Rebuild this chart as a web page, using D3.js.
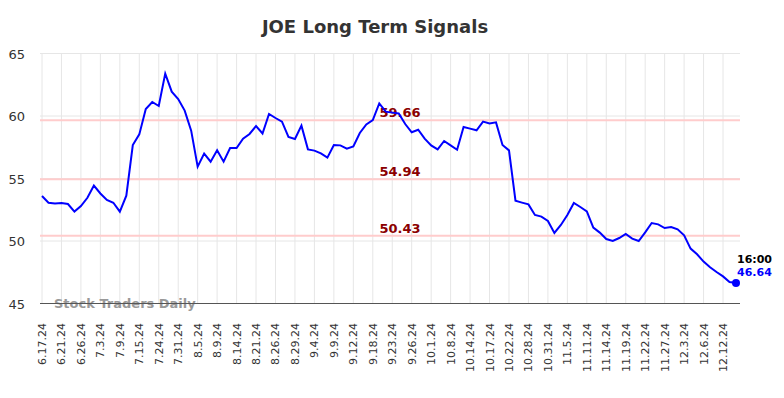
<!DOCTYPE html>
<html>
<head>
<meta charset="utf-8">
<script src="https://cdn.jsdelivr.net/npm/d3@7"></script>
<style>
  body { margin: 0; background: #fff; }
  text { font-family: "DejaVu Sans", sans-serif; }
</style>
</head>
<body>
<svg id="chart" width="784" height="398"></svg>
<script>
// tick labels, one every third point
var dateLabels = ["6.17.24","6.21.24","6.26.24","7.3.24","7.9.24","7.15.24","7.24.24","7.31.24",
  "8.5.24","8.9.24","8.14.24","8.21.24","8.26.24","8.29.24","9.4.24","9.9.24","9.12.24","9.18.24",
  "9.23.24","9.26.24","10.1.24","10.8.24","10.14.24","10.17.24","10.22.24","10.28.24","10.31.24",
  "11.5.24","11.11.24","11.14.24","11.19.24","11.22.24","11.27.24","12.3.24","12.6.24","12.12.24"];

var prices = [53.6,53.06,53.0,53.03,52.96,52.35,52.8,53.46,54.43,53.8,53.28,53.06,52.35,53.62,57.68,58.53,
  60.56,61.12,60.8,63.39,61.95,61.36,60.43,58.83,55.95,56.99,56.35,57.25,56.35,57.44,57.44,58.19,58.56,59.2,
  58.6,60.16,59.84,59.55,58.32,58.16,59.23,57.33,57.23,57.01,56.67,57.68,57.65,57.39,57.57,58.64,59.33,59.68,
  61.01,60.35,60.27,60.2,59.36,58.7,58.9,58.19,57.65,57.33,58.0,57.65,57.3,59.12,58.99,58.86,59.55,59.41,59.49,
  57.68,57.25,53.22,53.07,52.93,52.08,51.95,51.6,50.64,51.28,52.08,53.04,52.72,52.37,51.07,50.67,50.16,50.0,
  50.24,50.56,50.19,50.0,50.69,51.44,51.33,51.04,51.12,50.93,50.45,49.39,48.94,48.35,47.9,47.52,47.17,46.72,46.64];

var levels = [59.66, 54.94, 50.43];
var yTicks = [45, 50, 55, 60, 65];
var lastTime = "16:00";

var svg = d3.select("#chart");
var margin = {top: 53.5, right: 44, bottom: 94.5, left: 42};
var width = 784 - margin.left - margin.right;
var height = 398 - margin.top - margin.bottom;

var x = d3.scaleLinear().domain([0, prices.length - 1]).range([margin.left, margin.left + 694]);
var y = d3.scaleLinear().domain([45, 65]).range([margin.top + height, margin.top]);

// title
svg.append("text")
    .attr("x", 375).attr("y", 33)
    .attr("text-anchor", "middle")
    .attr("font-size", 18).attr("font-weight", "bold")
    .attr("fill", "#333")
    .text("JOE Long Term Signals");

// vertical grid
svg.append("g").selectAll("line")
    .data(dateLabels)
    .enter().append("line")
    .attr("x1", function(d, i) { return x(i * 3); })
    .attr("x2", function(d, i) { return x(i * 3); })
    .attr("y1", margin.top).attr("y2", margin.top + height)
    .attr("stroke", "#e6e6e6").attr("stroke-width", 1);

// horizontal grid
svg.append("g").selectAll("line")
    .data(yTicks)
    .enter().append("line")
    .attr("x1", margin.left - 2).attr("x2", 740)
    .attr("y1", function(d) { return y(d); })
    .attr("y2", function(d) { return y(d); })
    .attr("stroke", "#e6e6e6").attr("stroke-width", 1);

// y labels
svg.append("g").selectAll("text")
    .data(yTicks)
    .enter().append("text")
    .attr("x", 25).attr("y", function(d) { return y(d) + 5; })
    .attr("text-anchor", "end")
    .attr("font-size", 13).attr("fill", "#333")
    .text(function(d) { return d; });

// signal levels
svg.append("g").selectAll("line")
    .data(levels)
    .enter().append("line")
    .attr("x1", margin.left - 2).attr("x2", 740)
    .attr("y1", function(d) { return y(d); })
    .attr("y2", function(d) { return y(d); })
    .attr("stroke", "#ffcccc").attr("stroke-width", 2);

svg.append("g").selectAll("text")
    .data(levels)
    .enter().append("text")
    .attr("x", 400).attr("y", function(d) { return y(d) - 3; })
    .attr("text-anchor", "middle")
    .attr("font-size", 13).attr("font-weight", "bold")
    .attr("fill", "#8b0000")
    .text(function(d) { return d.toFixed(2); });

// watermark
svg.append("text")
    .attr("x", 54).attr("y", 308)
    .attr("font-size", 13).attr("font-weight", "bold")
    .attr("fill", "#999")
    .text("Stock Traders Daily");

// bottom axis line
svg.append("line")
    .attr("x1", margin.left - 2).attr("x2", 740)
    .attr("y1", y(45)).attr("y2", y(45))
    .attr("stroke", "#555").attr("stroke-width", 1);

// x labels
svg.append("g").selectAll("text")
    .data(dateLabels)
    .enter().append("text")
    .attr("transform", function(d, i) { return "translate(" + (x(i * 3) + 4) + ",323) rotate(-90)"; })
    .attr("text-anchor", "end")
    .attr("font-size", 11).attr("fill", "#333")
    .text(function(d) { return d; });

// price line
var line = d3.line()
    .x(function(d, i) { return x(i); })
    .y(function(d) { return y(d); });

svg.append("path")
    .datum(prices)
    .attr("d", line)
    .attr("fill", "none")
    .attr("stroke", "#0000ff").attr("stroke-width", 2);

var lastIdx = prices.length - 1;
svg.append("circle")
    .attr("cx", x(lastIdx)).attr("cy", y(prices[lastIdx]))
    .attr("r", 4).attr("fill", "#0000ff");

svg.append("text")
    .attr("x", x(lastIdx) + 1).attr("y", y(prices[lastIdx]) - 20)
    .attr("font-size", 11).attr("font-weight", "bold").attr("fill", "#000")
    .text(lastTime);

svg.append("text")
    .attr("x", x(lastIdx) + 1).attr("y", y(prices[lastIdx]) - 7)
    .attr("font-size", 11).attr("font-weight", "bold").attr("fill", "#0000ff")
    .text(prices[lastIdx].toFixed(2));
</script>
</body>
</html>
